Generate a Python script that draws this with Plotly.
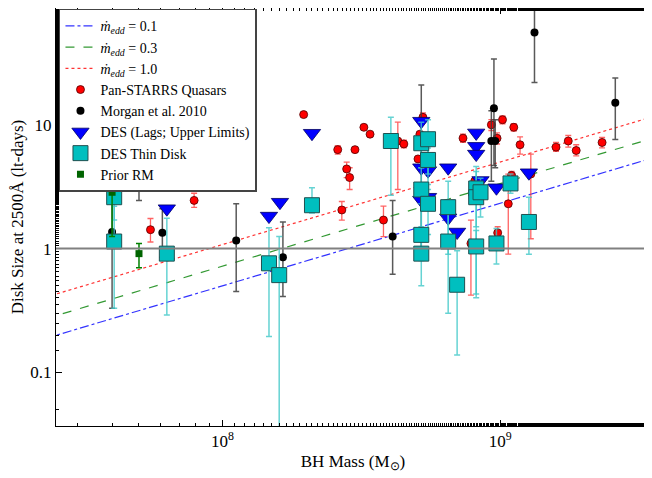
import numpy as np
import plotly.graph_objects as go

# Pan-STARRS quasars
ps_mass = [1.96e8, 7.9e7, 5.5e7, 1.12e8, 2.6e8, 2.8e8, 2.87e8, 2.69e8, 3.0e8, 3.23e8, 3.4e8, 3.8e8,
           4.28e8, 4.5e8, 5.06e8, 5.14e8, 5.27e8, 7.35e8, 7.85e8, 8.1e8, 9.3e8, 9.75e8, 9.8e8, 1.02e9,
           1.07e9, 1.1e9, 1.12e9, 1.18e9, 1.29e9, 1.59e9, 1.76e9, 1.88e9, 2.33e9]
ps_size = [12.1, 2.45, 1.42, 3.24, 6.3, 4.4, 3.75, 2.05, 6.3, 9.55, 8.4, 1.7,
           7.4, 7.0, 5.3, 8.4, 11.5, 7.8, 1.1, 3.5, 10.0, 7.8, 1.34, 11.0,
           2.3, 3.9, 9.55, 6.9, 4.0, 6.6, 7.4, 6.2, 7.2]
ps_lo = [12.1, 2.15, 1.13, 2.95, 5.8, 3.75, 3.0, 1.7, 6.3, 9.55, 8.4, 1.25,
         3.0, 6.5, 5.3, 8.0, 10.5, 7.2, 0.42, 3.3, 9.0, 7.0, 1.2, 10.2,
         0.9, 3.6, 8.9, 5.8, 1.2, 6.1, 6.6, 5.6, 6.5]
ps_hi = [12.1, 2.8, 1.75, 3.6, 6.8, 5.0, 4.5, 2.4, 6.3, 9.55, 8.4, 2.2,
         10.5, 7.5, 5.3, 8.8, 12.5, 8.4, 1.7, 3.7, 11.0, 8.6, 1.5, 11.8,
         4.0, 4.2, 10.2, 8.0, 5.8, 7.2, 8.2, 6.9, 7.9]

# Morgan et al. 2010
mo_mass = [4.0e7, 5.0e7, 6.07e7, 1.12e8, 1.65e8, 4.1e8, 5.2e8, 9.5e8, 9.3e8, 9.6e8, 1.33e9, 2.6e9]
mo_size = [1.36, 3.1, 1.34, 1.16, 0.85, 1.25, 4.5, 13.6, 7.4, 7.4, 55.6, 15.1]
mo_lo = [0.33, 2.45, 0.85, 0.45, 0.41, 0.62, 1.0, 4.7, 3.5, 4.5, 22.0, 7.6]
mo_hi = [4.3, 3.75, 2.1, 2.3, 1.64, 2.45, 21.0, 34.0, 13.0, 11.0, 150.0, 23.9]

# DES lags, upper limits
ul_mass = [6.3e7, 1.47e8, 1.61e8, 2.1e8, 5.2e8, 5.2e8, 5.5e8, 5.2e8, 5.5e8, 6.5e8, 6.5e8, 7.0e8,
           8.2e8, 8.2e8, 8.2e8, 8.5e8, 9.7e8, 1.27e9]
ul_size = [2.1, 1.83, 2.37, 8.55, 10.7, 4.5, 4.26, 2.46, 2.6, 4.5, 1.77, 1.36,
           8.6, 6.7, 5.8, 3.55, 3.1, 4.1]

# DES thin disk
td_mass = [4.07e7, 4.07e7, 6.3e7, 1.47e8, 1.6e8, 2.1e8, 4.04e8, 5.2e8, 5.5e8, 5.5e8, 5.2e8, 5.5e8,
           5.2e8, 5.2e8, 6.5e8, 6.5e8, 7.0e8, 8.2e8, 8.2e8, 8.5e8, 8.2e8, 9.7e8, 1.09e9, 1.27e9]
td_size = [2.6, 1.14, 0.91, 0.76, 0.61, 2.24, 7.4, 7.1, 7.65, 5.2, 3.0, 2.3,
           1.29, 0.91, 2.16, 1.14, 0.51, 3.06, 2.6, 2.85, 1.04, 1.1, 3.36, 1.64]
td_lo = [1.7, 0.33, 0.29, 0.195, 0.001, 1.94, 2.7, 4.5, 4.0, 3.0, 1.5, 1.3,
         0.8, 0.5, 0.9, 0.3, 0.138, 1.5, 0.4, 1.8, 0.43, 0.75, 2.8, 0.9]
td_hi = [3.4, 2.2, 1.76, 1.47, 1.25, 3.1, 11.5, 10.5, 11.0, 6.5, 4.5, 3.3,
         2.3, 1.41, 3.5, 2.0, 0.96, 4.6, 4.2, 3.7, 1.4, 1.45, 4.0, 2.6]

# Prior RM
rm_mass = [4.0e7, 5.0e7]
rm_size = [2.85, 0.91]
rm_lo = [1.25, 0.7]
rm_hi = [6.7, 1.1]

# thin disk model lines
mdot_vals = [0.1, 0.3, 1.0]
mdot_colors = ['blue', 'green', 'red']
mdot_dash = ['dashdot', 'dash', 'dot']
norm = 0.5  # size at 1e8 Msun for mdot=0.1
m_line = np.logspace(7.3, 9.6, 50)

FONT = 'Liberation Serif'

fig = go.Figure()


def err(size, lo, hi):
    return dict(type='data', symmetric=False,
                array=[h - s for s, h in zip(size, hi)],
                arrayminus=[s - l for s, l in zip(size, lo)])


for md, c, d in zip(mdot_vals, mdot_colors, mdot_dash):
    fig.add_trace(go.Scatter(x=m_line, y=norm * (m_line / 1e8) ** (2 / 3) * (md / 0.1) ** (1 / 3),
                             mode='lines', line=dict(color=c, dash=d, width=1.2), opacity=0.8,
                             name='<i>ṁ<sub>edd</sub></i> = %.1f' % md))

fig.add_trace(go.Scatter(x=ps_mass, y=ps_size, mode='markers', name='Pan-STARRS Quasars',
                         error_y=dict(err(ps_size, ps_lo, ps_hi), color='rgba(255,60,60,0.8)', thickness=1.3, width=3),
                         marker=dict(color='red', size=8, line=dict(color='#500000', width=0.8))))
fig.add_trace(go.Scatter(x=mo_mass, y=mo_size, mode='markers', name='Morgan et al. 2010',
                         error_y=dict(err(mo_size, mo_lo, mo_hi), color='rgba(60,60,60,0.85)', thickness=1.5, width=3),
                         marker=dict(color='black', size=8)))
fig.add_trace(go.Scatter(x=ul_mass, y=ul_size, mode='markers', name='DES (Lags; Upper Limits)',
                         marker=dict(color='blue', symbol='triangle-down', size=15,
                                     line=dict(color='#000060', width=0.8))))
fig.add_trace(go.Scatter(x=td_mass, y=td_size, mode='markers', name='DES Thin Disk',
                         error_y=dict(err(td_size, td_lo, td_hi), color='rgba(64,200,200,0.8)', thickness=1.5, width=3),
                         marker=dict(color='#00bfbf', symbol='square', size=15,
                                     line=dict(color='#205050', width=1))))
fig.add_trace(go.Scatter(x=rm_mass, y=rm_size, mode='markers', name='Prior RM',
                         error_y=dict(err(rm_size, rm_lo, rm_hi), color='green', thickness=1.5, width=3),
                         marker=dict(color='#006400', symbol='square', size=7)))

fig.add_hline(y=1, line=dict(color='gray', width=2))

axis = dict(type='log', showgrid=False, zeroline=False, showline=True, mirror='ticks',
            linecolor='black', linewidth=1, ticks='inside', ticklen=6, tickcolor='black',
            minor=dict(ticks='inside', ticklen=3, tickcolor='black'),
            tickfont=dict(family=FONT, size=17, color='black'))

fig.update_layout(
    width=652, height=478,
    margin=dict(l=48, r=10, t=0, b=60),
    plot_bgcolor='white', paper_bgcolor='white',
    font=dict(family=FONT, color='black'),
    xaxis=dict(axis, range=[7.40, 9.54],
               tickvals=[1e8, 1e9], ticktext=['10<sup>8</sup>', '10<sup>9</sup>'],
               title=dict(text='BH Mass (M<sub>⊙</sub>)', font=dict(size=17), standoff=4)),
    yaxis=dict(axis, range=[np.log10(0.04) - 0.036, 1.944],
               tickvals=[0.1, 1, 10], ticktext=['0.1', '1', '10'],
               title=dict(text='Disk Size at 2500Å (lt-days)', font=dict(size=17), standoff=2)),
    legend=dict(x=0.005, y=0.998, xanchor='left', yanchor='top', bgcolor='white',
                bordercolor='#444', borderwidth=1.5, font=dict(family=FONT, size=14),
                tracegroupgap=0, itemwidth=30),
)

fig.write_html("out.html")
